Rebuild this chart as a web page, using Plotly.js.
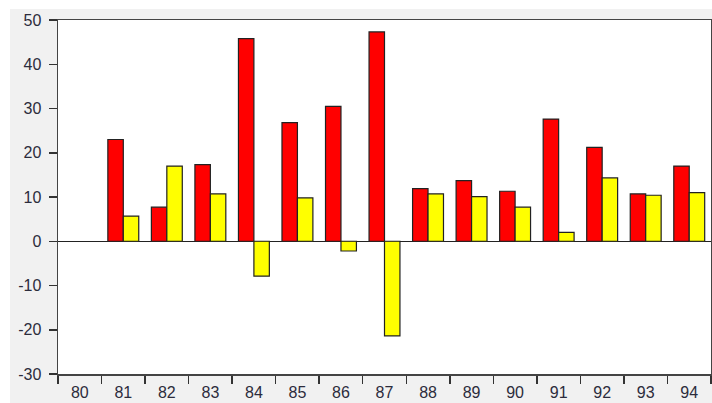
<!DOCTYPE html>
<html><head><meta charset="utf-8">
<script src="https://cdn.plot.ly/plotly-3.0.1.min.js"></script>
<style>
html,body{margin:0;padding:0;background:#ffffff;width:712px;height:403px;overflow:hidden;}
#chart{position:absolute;left:10px;top:9px;width:702px;height:394px;}
</style></head>
<body><div id="chart"></div>
<script>
const years = ['80','81','82','83','84','85','86','87','88','89','90','91','92','93','94'];
const redSeries = [null, 23.0, 7.7, 17.3, 45.8, 26.8, 30.5, 47.3, 11.9, 13.7, 11.3, 27.6, 21.2, 10.7, 17.0];
const yellowSeries = [null, 5.7, 17.0, 10.7, -7.9, 9.8, -2.2, -21.4, 10.7, 10.1, 7.7, 2.0, 14.3, 10.4, 11.0];
const yTicks = [-30, -20, -10, 0, 10, 20, 30, 40, 50];

const lineStyle = {color: '#222222', width: 1.2};
const data = [
  {type: 'bar', x: years, y: redSeries, marker: {color: '#ff0000', line: lineStyle}, hoverinfo: 'x+y'},
  {type: 'bar', x: years, y: yellowSeries, marker: {color: '#ffff00', line: lineStyle}, hoverinfo: 'x+y'}
];
const layout = {
  width: 702, height: 394,
  margin: {l: 48, r: 1, t: 11, b: 29},
  paper_bgcolor: '#f1f1f1',
  plot_bgcolor: '#ffffff',
  showlegend: false,
  barmode: 'group',
  bargap: 0.29,
  bargroupgap: 0,
  font: {family: 'Liberation Sans, Arial, sans-serif', size: 16, color: '#2c2c3c'},
  xaxis: {
    type: 'category', categoryorder: 'array', categoryarray: years,
    range: [-0.5, 14.5], tickson: 'boundaries', ticks: 'outside', ticklen: 8,
    tickcolor: '#333333', tickwidth: 1.5, ticklabelstandoff: 3,
    showline: true, linecolor: '#444444', linewidth: 1.5, mirror: true,
    showgrid: false, zeroline: false, fixedrange: true
  },
  yaxis: {
    range: [-30, 50], tickvals: yTicks, ticktext: yTicks.map(String),
    ticks: 'outside', ticklen: 8, tickcolor: '#333333', tickwidth: 1.5, ticklabelstandoff: 4,
    showline: true, linecolor: '#444444', linewidth: 1.5, mirror: true,
    showgrid: false, zeroline: true, zerolinecolor: '#222222', zerolinewidth: 1.2,
    fixedrange: true
  }
};
Plotly.newPlot('chart', data, layout, {staticPlot: true, displayModeBar: false});
</script></body></html>
